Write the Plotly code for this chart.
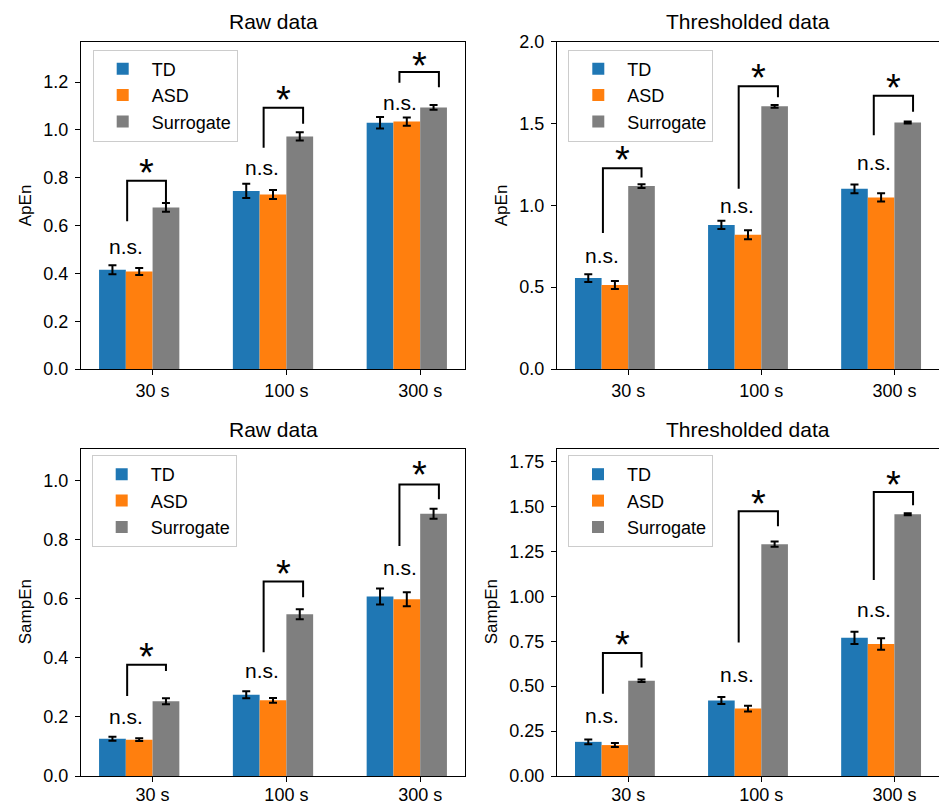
import plotly.graph_objects as go

# ---------------- data ----------------
categories = ["30 s", "100 s", "300 s"]
groups = ["TD", "ASD", "Surrogate"]
colors = ["#1f77b4", "#ff7f0e", "#7f7f7f"]
bar_offsets = [-0.3, -0.1, 0.1]
bar_width = 0.2

# ApEn raw
apen_raw_td = [0.415, 0.745, 1.030]
apen_raw_td_err = [0.019, 0.030, 0.024]
apen_raw_asd = [0.408, 0.730, 1.035]
apen_raw_asd_err = [0.015, 0.019, 0.017]
apen_raw_sur = [0.676, 0.973, 1.094]
apen_raw_sur_err = [0.018, 0.017, 0.010]

# ApEn thresholded
apen_thr_td = [0.555, 0.880, 1.100]
apen_thr_td_err = [0.023, 0.025, 0.027]
apen_thr_asd = [0.513, 0.820, 1.048]
apen_thr_asd_err = [0.024, 0.028, 0.025]
apen_thr_sur = [1.117, 1.604, 1.506]
apen_thr_sur_err = [0.011, 0.008, 0.006]

# SampEn raw
sampen_raw_td = [0.126, 0.275, 0.607]
sampen_raw_td_err = [0.007, 0.012, 0.027]
sampen_raw_asd = [0.123, 0.256, 0.598]
sampen_raw_asd_err = [0.005, 0.008, 0.024]
sampen_raw_sur = [0.253, 0.547, 0.887]
sampen_raw_sur_err = [0.010, 0.017, 0.017]

# SampEn thresholded
sampen_thr_td = [0.190, 0.420, 0.769]
sampen_thr_td_err = [0.013, 0.020, 0.034]
sampen_thr_asd = [0.172, 0.375, 0.734]
sampen_thr_asd_err = [0.011, 0.016, 0.032]
sampen_thr_sur = [0.530, 1.290, 1.456]
sampen_thr_sur_err = [0.007, 0.015, 0.006]

# significance brackets (x of legs, heights)
bracket_left_x = [-0.19, 0.83, 1.845]
bracket_right_x = [0.10, 1.125, 2.14]
ns_x = [-0.2, 0.82, 1.85]

apen_raw_br_top = [0.7875, 1.093, 1.242]
apen_raw_br_left = [0.618, 0.926, 1.197]
apen_raw_br_right = [0.697, 1.026, 1.179]
apen_raw_star_y = [0.843, 1.149, 1.294]
apen_raw_ns_y = [0.517, 0.846, 1.119]

apen_thr_br_top = [1.226, 1.726, 1.669]
apen_thr_br_left = [0.831, 1.101, 1.428]
apen_thr_br_right = [1.169, 1.659, 1.571]
apen_thr_star_y = [1.312, 1.812, 1.751]
apen_thr_ns_y = [0.699, 1.005, 1.265]

sampen_raw_br_top = [0.3766, 0.658, 0.9865]
sampen_raw_br_left = [0.2706, 0.419, 0.778]
sampen_raw_br_right = [0.355, 0.605, 0.936]
sampen_raw_star_y = [0.423, 0.705, 1.037]
sampen_raw_ns_y = [0.205, 0.361, 0.708]

sampen_thr_br_top = [0.684, 1.473, 1.580]
sampen_thr_br_left = [0.458, 0.743, 1.091]
sampen_thr_br_right = [0.604, 1.390, 1.506]
sampen_thr_star_y = [0.762, 1.549, 1.654]
sampen_thr_ns_y = [0.342, 0.573, 0.933]

panel_titles = ["Raw data", "Thresholded data", "Raw data", "Thresholded data"]
panel_ylabels = ["ApEn", "ApEn", "SampEn", "SampEn"]
panel_yranges = [[0, 1.37], [0, 2.0], [0, 1.108], [0, 1.822]]
panel_ytickvals = [
    [0.0, 0.2, 0.4, 0.6, 0.8, 1.0, 1.2],
    [0.0, 0.5, 1.0, 1.5, 2.0],
    [0.0, 0.2, 0.4, 0.6, 0.8, 1.0],
    [0.0, 0.25, 0.5, 0.75, 1.0, 1.25, 1.5, 1.75],
]
panel_ytickformat = [".1f", ".1f", ".1f", ".2f"]

panels = [
    dict(vals=[apen_raw_td, apen_raw_asd, apen_raw_sur],
         errs=[apen_raw_td_err, apen_raw_asd_err, apen_raw_sur_err],
         top=apen_raw_br_top, lb=apen_raw_br_left, rb=apen_raw_br_right,
         star=apen_raw_star_y, ns=apen_raw_ns_y),
    dict(vals=[apen_thr_td, apen_thr_asd, apen_thr_sur],
         errs=[apen_thr_td_err, apen_thr_asd_err, apen_thr_sur_err],
         top=apen_thr_br_top, lb=apen_thr_br_left, rb=apen_thr_br_right,
         star=apen_thr_star_y, ns=apen_thr_ns_y),
    dict(vals=[sampen_raw_td, sampen_raw_asd, sampen_raw_sur],
         errs=[sampen_raw_td_err, sampen_raw_asd_err, sampen_raw_sur_err],
         top=sampen_raw_br_top, lb=sampen_raw_br_left, rb=sampen_raw_br_right,
         star=sampen_raw_star_y, ns=sampen_raw_ns_y),
    dict(vals=[sampen_thr_td, sampen_thr_asd, sampen_thr_sur],
         errs=[sampen_thr_td_err, sampen_thr_asd_err, sampen_thr_sur_err],
         top=sampen_thr_br_top, lb=sampen_thr_br_left, rb=sampen_thr_br_right,
         star=sampen_thr_star_y, ns=sampen_thr_ns_y),
]

# ---------------- layout geometry ----------------
W, H = 939, 806
FONT = "Liberation Sans, Arial, sans-serif"
x_domains = [[81 / W, 465 / W], [557 / W, 1.0], [81 / W, 465 / W], [557 / W, 1.0]]
y_domains = [[1 - 369 / H, 1 - 41.5 / H], [1 - 369 / H, 1 - 41.5 / H],
             [1 - 776 / H, 1 - 448.5 / H], [1 - 776 / H, 1 - 448.5 / H]]
legend_pos = [(92.7 / W, 1 - 49.5 / H), (568.3 / W, 1 - 49.5 / H),
              (91.7 / W, 1 - 455 / H), (568 / W, 1 - 455 / H)]
title_y = [1 - 21.7 / H, 1 - 21.7 / H, 1 - 429.3 / H, 1 - 429.3 / H]
ylabel_shift = [-56, -56, -56, -66]
xtick_standoff = [0, 0, -3, -3]

fig = go.Figure()
annotations = []
layout_axes = {}

for p, panel in enumerate(panels):
    k = "" if p == 0 else str(p + 1)
    xa, ya = "x" + k, "y" + k
    leg = "legend" + k
    for g in range(3):
        fig.add_trace(go.Bar(
            x=[i + bar_offsets[g] for i in range(len(categories))],
            y=panel["vals"][g],
            width=bar_width,
            name=groups[g],
            marker=dict(color=colors[g], line=dict(width=0)),
            error_y=dict(type="data", array=panel["errs"][g], color="black",
                         thickness=2, width=4),
            xaxis=xa, yaxis=ya, legend=leg,
        ))
    # brackets
    bx, by = [], []
    for i in range(len(categories)):
        bx += [bracket_left_x[i], bracket_left_x[i], bracket_right_x[i], bracket_right_x[i], None]
        by += [panel["lb"][i], panel["top"][i], panel["top"][i], panel["rb"][i], None]
    fig.add_trace(go.Scatter(x=bx, y=by, mode="lines", line=dict(color="black", width=2),
                             showlegend=False, hoverinfo="skip", xaxis=xa, yaxis=ya))
    for i in range(len(categories)):
        annotations.append(dict(x=(bracket_left_x[i] + bracket_right_x[i]) / 2, y=panel["star"][i],
                                xref=xa, yref=ya, text="*", showarrow=False,
                                font=dict(size=38, color="black", family=FONT),
                                xanchor="center", yanchor="middle", yshift=-6))
        annotations.append(dict(x=ns_x[i], y=panel["ns"][i], xref=xa, yref=ya, text="n.s.",
                                showarrow=False, font=dict(size=21, color="black", family=FONT),
                                xanchor="center", yanchor="middle", yshift=-1))
    # title
    annotations.append(dict(x=0.5, y=title_y[p], xref=xa + " domain", yref="paper",
                            text=panel_titles[p], showarrow=False,
                            font=dict(size=21, color="black", family=FONT),
                            xanchor="center", yanchor="middle"))
    # y label
    annotations.append(dict(x=0, y=0.5, xref=xa + " domain", yref=ya + " domain",
                            text=panel_ylabels[p], showarrow=False, textangle=-90,
                            font=dict(size=17, color="black", family=FONT),
                            xanchor="center", yanchor="middle", xshift=ylabel_shift[p]))

    layout_axes["xaxis" + k] = dict(
        domain=x_domains[p], anchor=ya, range=[-0.535, 2.335], automargin=False,
        tickvals=list(range(len(categories))), ticktext=categories,
        showline=True, linecolor="black", linewidth=1.2, mirror=True,
        ticks="outside", ticklen=5, tickwidth=1.2, tickcolor="black",
        showgrid=False, zeroline=False, ticklabelstandoff=xtick_standoff[p],
        tickfont=dict(size=18, color="black", family=FONT),
    )
    layout_axes["yaxis" + k] = dict(
        domain=y_domains[p], anchor=xa, range=panel_yranges[p], automargin=False,
        tickvals=panel_ytickvals[p], tickformat=panel_ytickformat[p],
        showline=True, linecolor="black", linewidth=1.2, mirror=(p % 2 == 0),
        ticks="outside", ticklen=5, tickwidth=1.2, tickcolor="black",
        showgrid=False, zeroline=False, ticklabelstandoff=3,
        tickfont=dict(size=18, color="black", family=FONT),
    )
    layout_axes[leg] = dict(
        x=legend_pos[p][0], y=legend_pos[p][1], xanchor="left", yanchor="top",
        xref="paper", yref="paper",
        bgcolor="rgba(255,255,255,0.8)", bordercolor="#cccccc", borderwidth=1,
        font=dict(size=18, color="black", family=FONT),
        itemwidth=48, tracegroupgap=0,
    )

fig.update_layout(
    width=W, height=H,
    margin=dict(l=0, r=0, t=0, b=0, autoexpand=False),
    paper_bgcolor="white", plot_bgcolor="white",
    barmode="overlay",
    annotations=annotations,
    font=dict(family=FONT, color="black"),
    **layout_axes,
)

fig.write_html("out.html", config={"displayModeBar": False})

# remove the default page margin so the figure fills the window exactly
with open("out.html", "r", encoding="utf-8") as f:
    html = f.read()
html = html.replace("<body>", '<body style="margin:0;padding:0;overflow:hidden">', 1)
with open("out.html", "w", encoding="utf-8") as f:
    f.write(html)
